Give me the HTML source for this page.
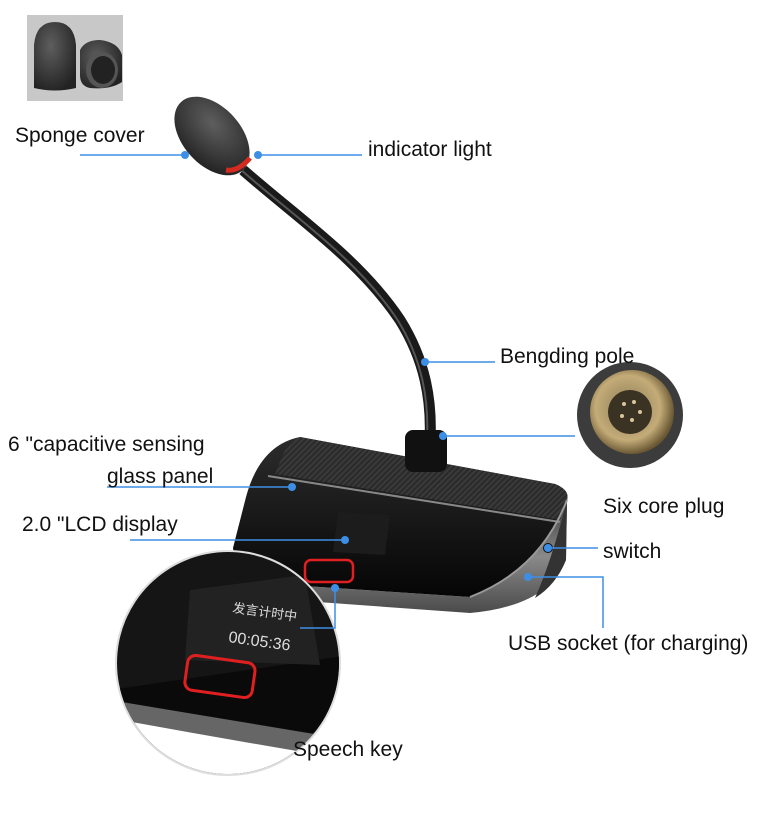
<!DOCTYPE html>
<html><head><meta charset="utf-8"><style>
html,body{margin:0;padding:0;background:#fff;width:777px;height:817px;overflow:hidden}
svg{display:block}
text{font-family:"Liberation Sans",sans-serif;font-size:21px;fill:#111}
</style></head><body>
<svg width="777" height="817" viewBox="0 0 777 817">
<defs>
<radialGradient id="foam" cx="40%" cy="35%" r="70%"><stop offset="0" stop-color="#5e5e5e"/><stop offset="1" stop-color="#222"/></radialGradient>
<linearGradient id="top" x1="0" y1="0" x2="0" y2="1"><stop offset="0" stop-color="#2c2c2c"/><stop offset="1" stop-color="#050505"/></linearGradient>
<linearGradient id="rim" x1="0" y1="0" x2="0" y2="1"><stop offset="0" stop-color="#3a3a3a"/><stop offset=".5" stop-color="#8a8a8a"/><stop offset="1" stop-color="#4a4a4a"/></linearGradient>
<radialGradient id="brass" cx="45%" cy="45%" r="55%"><stop offset="0" stop-color="#8a7a58"/><stop offset=".7" stop-color="#c4ac78"/><stop offset="1" stop-color="#6a5834"/></radialGradient>
<pattern id="mesh" width="4" height="4" patternUnits="userSpaceOnUse" patternTransform="rotate(45)"><rect width="4" height="4" fill="#2a2a2a"/><rect width="2" height="4" fill="#3a3a3a"/></pattern>
<clipPath id="mag"><circle cx="228" cy="663" r="111"/></clipPath>
</defs>
<!-- sponge photo -->
<rect x="27" y="15" width="96" height="86" fill="#c8c8c8"/>
<path d="M34 88 L34 45 Q36 22 55 22 Q74 22 76 45 L76 88 Q55 93 34 88 Z" fill="url(#foam)"/>
<path d="M80 50 Q85 40 100 40 Q118 42 122 55 L122 82 Q110 90 90 88 Q80 86 80 75 Z" fill="url(#foam)"/>
<ellipse cx="102" cy="70" rx="16" ry="18" fill="#555"/>
<ellipse cx="103" cy="70" rx="12" ry="14" fill="#222"/>
<!-- gooseneck -->
<path d="M243 170 C300 220 360 260 400 320 C425 360 432 400 430 440" stroke="#1a1a1a" stroke-width="11" fill="none"/>
<path d="M243 170 C300 220 360 260 400 320 C425 360 432 400 430 440" stroke="#555" stroke-width="2" fill="none" transform="translate(-3,-1)"/>
<!-- mic head -->
<ellipse cx="212" cy="136" rx="46" ry="29" transform="rotate(48 212 136)" fill="url(#foam)"/>
<path d="M226 170 Q238 172 250 158" stroke="#d42a20" stroke-width="5" fill="none"/>
<!-- base rim/side -->
<path d="M233 548 Q236 585 290 600 L470 613 Q548 606 566 560 L567 500 Q540 570 470 597 L290 585 Q235 575 233 548 Z" fill="url(#rim)"/>
<path d="M567 500 L566 560 Q556 585 535 598 Q552 560 567 500 Z" fill="#333"/>
<!-- base top -->
<path d="M300 437 L555 484 Q570 490 567 500 Q540 570 470 597 L290 585 Q235 575 233 548 L246 497 Q260 445 300 437 Z" fill="url(#top)"/>
<path d="M300 437 L555 484 Q570 490 567 500 L560 520 L275 474 L285 450 Q292 440 300 437 Z" fill="url(#mesh)"/>
<path d="M268 476 L560 522" stroke="#888" stroke-width="2"/>
<path d="M567 500 Q540 570 470 597" stroke="#999" stroke-width="2" fill="none"/>
<rect x="405" y="430" width="42" height="42" rx="8" fill="#111"/>
<path d="M338 512 L390 515 L385 555 L333 552 Z" fill="#1c1c1c"/>
<rect x="305" y="560" width="48" height="22" rx="6" fill="none" stroke="#e02020" stroke-width="2.5"/>
<circle cx="548" cy="548" r="5" fill="#111"/>
<!-- magnifier -->
<circle cx="228" cy="663" r="112" fill="#fff" stroke="#ddd" stroke-width="2"/>
<g clip-path="url(#mag)">
<rect x="110" y="550" width="240" height="240" fill="#151515"/>
<path d="M110 690 L350 655 L350 730 Q250 740 110 720 Z" fill="#0a0a0a"/>
<path d="M110 700 Q230 720 350 740 L350 800 L110 800 Z" fill="#666"/>
<path d="M110 718 Q230 740 350 760 L350 800 L110 800 Z" fill="#fff"/>
<path d="M190 590 L305 575 L320 665 L185 660 Z" fill="#222"/>
<text x="232" y="612" transform="rotate(8 232 612)" style="font-size:13px;fill:#ddd">发言计时中</text>
<text x="228" y="642" transform="rotate(8 228 642)" style="font-size:16px;fill:#ddd">00:05:36</text>
<rect x="186" y="659" width="68" height="35" rx="8" fill="none" stroke="#e02020" stroke-width="3" transform="rotate(8 220 676)"/>
</g>
<!-- plug -->
<circle cx="630" cy="415" r="53" fill="#3c3c3c"/>
<circle cx="632" cy="412" r="42" fill="url(#brass)"/>
<circle cx="630" cy="412" r="22" fill="#3a3223"/>
<g fill="#d8c79a"><circle cx="624" cy="404" r="2"/><circle cx="634" cy="402" r="2"/><circle cx="640" cy="412" r="2"/><circle cx="622" cy="416" r="2"/><circle cx="632" cy="420" r="2"/></g>
<!-- lines -->
<g stroke="#3d8fe6" stroke-width="1.5" fill="none">
<line x1="80" y1="155" x2="185" y2="155"/>
<line x1="258" y1="155" x2="362" y2="155"/>
<line x1="425" y1="362" x2="495" y2="362"/>
<line x1="443" y1="436" x2="575" y2="436"/>
<line x1="107" y1="487" x2="292" y2="487"/>
<line x1="130" y1="540" x2="345" y2="540"/>
<line x1="548" y1="548" x2="598" y2="548"/>
<polyline points="528,577 603,577 603,628"/>
<polyline points="335,588 335,628 300,628"/>
</g>
<g fill="#3d8fe6">
<circle cx="185" cy="155" r="4"/><circle cx="258" cy="155" r="4"/>
<circle cx="425" cy="362" r="4"/><circle cx="443" cy="436" r="4"/>
<circle cx="292" cy="487" r="4"/><circle cx="345" cy="540" r="4"/>
<circle cx="548" cy="548" r="4"/><circle cx="528" cy="577" r="4"/>
<circle cx="335" cy="588" r="4"/>
</g>
<!-- labels -->
<text x="15" y="142">Sponge cover</text>
<text x="368" y="156">indicator light</text>
<text x="500" y="363">Bengding pole</text>
<text x="8" y="451">6 "capacitive sensing</text>
<text x="107" y="483">glass panel</text>
<text x="22" y="531">2.0 "LCD display</text>
<text x="603" y="513">Six core plug</text>
<text x="603" y="558">switch</text>
<text x="508" y="650">USB socket (for charging)</text>
<text x="293" y="756">Speech key</text>
</svg>
</body></html>
